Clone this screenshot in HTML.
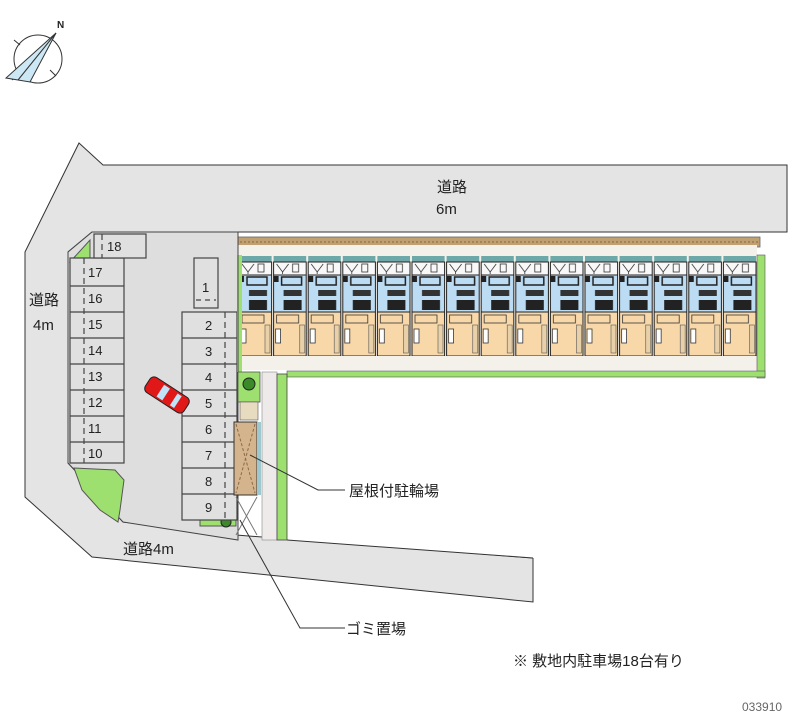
<!DOCTYPE html>
<html><head><meta charset="utf-8"><style>
html,body{margin:0;padding:0;background:#fff;}
svg{display:block;}
text{font-family:"Liberation Sans","Noto Sans CJK JP",sans-serif;}
</style></head><body>
<svg width="800" height="727" viewBox="0 0 800 727" xmlns="http://www.w3.org/2000/svg">
<defs>
<pattern id="unit" x="238" y="245" width="34.6" height="125" patternUnits="userSpaceOnUse">
  <rect x="0" y="0" width="34.6" height="125" fill="#f4f0ea"/>
  <rect x="1" y="11" width="32.6" height="6" fill="#6fa8a8"/>
  <rect x="1" y="17" width="32.6" height="13" fill="#f8f8f8" stroke="#222" stroke-width="1"/>
  <path d="M4 19 L10 27 L16 19 M10 27 V29" stroke="#333" fill="none" stroke-width="0.8"/>
  <rect x="20" y="19" width="6" height="8" fill="none" stroke="#333" stroke-width="0.8"/>
  <rect x="1" y="30" width="32.6" height="37" fill="#bcdcf4" stroke="#222" stroke-width="1"/>
  <rect x="1" y="31" width="5" height="6" fill="#222"/>
  <rect x="9" y="32" width="20" height="8" fill="none" stroke="#222" stroke-width="1.5"/>
  <rect x="11" y="45" width="18" height="6" fill="#333"/>
  <rect x="11" y="55" width="18" height="10" fill="#222"/>
  <rect x="1" y="67" width="32.6" height="44" fill="#f8d8a8" stroke="#222" stroke-width="1"/>
  <rect x="4" y="70" width="22" height="8" fill="none" stroke="#333" stroke-width="0.8"/>
  <rect x="3" y="84" width="5" height="14" fill="#fff" stroke="#333" stroke-width="0.8"/>
  <rect x="27" y="80" width="5" height="28" fill="#e8d0a8" stroke="#555" stroke-width="0.6"/>
  <rect x="1" y="111" width="32.6" height="3" fill="#333"/>
</pattern>
</defs>

<!-- compass -->
<g stroke="#333" fill="none" stroke-width="1">
<circle cx="38" cy="59" r="24"/>
<path d="M14 40 L20 45 M50 70 L56 76 M12 80 L20 74"/>
<path d="M56 33 L6 78 L30 82 Z" fill="#cce8f4"/>
<path d="M56 33 L18 80"/>
</g>
<text x="57" y="28" font-size="10" fill="#222" font-weight="bold">N</text>

<!-- roads -->
<path d="M79 143 L103 165 L787 165 L787 232 L92 232 L68 252 L68 463 L123 522 L236 535 L533 558 L533 602 L92 557 L25 497 L25 252 Z" fill="#e4e4e4" stroke="#333" stroke-width="1"/>
<!-- site lot -->
<path d="M92 232 L238 232 L238 540 L123 522 L68 463 L68 252 Z" fill="#dedede" stroke="#444" stroke-width="1"/>
<!-- empty land -->
<path d="M287 376 L800 376 L800 560 L533 558 L287 540 Z" fill="#fff"/>
<path d="M287 540 L533 558" stroke="#333"/>

<!-- greens -->
<path d="M70 262 L90 240 L90 262 Z" fill="#9ee070" stroke="#555"/>
<path d="M74 468 L115 470 L124 480 L120 510 L118 522 L100 510 L82 490 Z" fill="#9ee070" stroke="#555"/>
<rect x="200" y="516" width="36" height="10" fill="#9ee070" stroke="#555"/>
<circle cx="226" cy="522" r="5" fill="#3a8a2a" stroke="#222"/>

<!-- left stalls -->
<g stroke="#444" fill="#e0e0e0" stroke-width="1.2">
<rect x="70" y="258" width="54" height="205"/>
</g>
<g stroke="#444" stroke-width="1.2">
<path d="M70 286H124M70 312H124M70 338H124M70 364H124M70 390H124M70 416H124M70 442H124"/>
<path d="M84 258V463" stroke-dasharray="6 4"/>
<rect x="94" y="234" width="52" height="24" fill="#e0e0e0"/>
<path d="M102 234V258" stroke-dasharray="6 4"/>
<!-- right stalls -->
<rect x="182" y="312" width="55" height="208" fill="#e0e0e0"/>
<path d="M182 338H237M182 364H237M182 390H237M182 416H237M182 442H237M182 468H237M182 494H237"/>
<path d="M225 312V520" stroke-dasharray="6 4"/>
<rect x="194" y="258" width="24" height="50" fill="#e0e0e0"/>
<path d="M196 300H216" stroke-dasharray="5 4"/>
</g>
<g font-size="13" fill="#222">
<text x="107" y="251">18</text>
<text x="88" y="277">17</text><text x="88" y="303">16</text><text x="88" y="329">15</text>
<text x="88" y="355">14</text><text x="88" y="381">13</text><text x="88" y="407">12</text>
<text x="88" y="433">11</text><text x="88" y="458">10</text>
<text x="202" y="292">1</text>
<text x="205" y="330">2</text><text x="205" y="356">3</text><text x="205" y="382">4</text>
<text x="205" y="408">5</text><text x="205" y="434">6</text><text x="205" y="460">7</text>
<text x="205" y="486">8</text><text x="205" y="512">9</text>
</g>

<!-- car -->
<g transform="translate(167 395) rotate(33)">
<rect x="-23" y="-9" width="46" height="18" rx="5" fill="#e01818" stroke="#222"/>
<rect x="-8" y="-7" width="7" height="14" fill="#bfe4f8"/>
<rect x="8" y="-7" width="5" height="14" fill="#bfe4f8"/>
</g>

<!-- building -->
<rect x="238" y="237" width="522" height="10" fill="#c0a070" stroke="#666" stroke-width="0.8"/>
<path d="M240 242H758" stroke="#886644" stroke-dasharray="2 2"/>
<rect x="238" y="245" width="519" height="125" fill="url(#unit)"/>
<rect x="238" y="356" width="522" height="14" fill="#f4f0ea"/>
<rect x="757" y="255" width="8" height="123" fill="#9ee070" stroke="#555" stroke-width="0.6"/>
<rect x="237" y="255" width="5" height="117" fill="#9ee070"/>
<rect x="287" y="371" width="478" height="6" fill="#9ee070" stroke="#555" stroke-width="0.6"/>
<path d="M238 232V540" stroke="#444"/>

<!-- side strip -->
<rect x="238" y="372" width="22" height="30" fill="#9ee070" stroke="#555" stroke-width="0.8"/>
<circle cx="249" cy="384" r="6" fill="#3a8a2a" stroke="#222"/>
<rect x="240" y="402" width="18" height="18" fill="#e8dcc0" stroke="#555" stroke-width="0.6"/>
<rect x="262" y="372" width="15" height="168" fill="#eeeaea" stroke="#888" stroke-width="0.6"/>
<rect x="277" y="374" width="10" height="166" fill="#9ee070" stroke="#444" stroke-width="0.8"/>
<rect x="234" y="422" width="23" height="73" fill="#d4b48c" stroke="#333"/>
<rect x="257" y="422" width="4" height="73" fill="#9ec8d0"/>
<path d="M236 424L255 493M255 424L236 493" stroke="#8a6a4a" stroke-dasharray="3 2"/>
<path d="M236 497L257 535M257 497L236 535" stroke="#777"/>

<!-- leaders -->
<path d="M250 455 L318 490 L345 490" stroke="#333" fill="none"/>
<path d="M240 520 L300 628 L345 628" stroke="#333" fill="none"/>

<!-- labels -->
<g font-size="15" fill="#222">
<text x="437" y="192">道路</text>
<text x="436" y="214">6m</text>
<text x="29" y="305">道路</text>
<text x="33" y="330">4m</text>
<text x="123" y="554">道路4m</text>
<text x="349" y="496">屋根付駐輪場</text>
<text x="346" y="634">ゴミ置場</text>
<text x="513" y="666">※ 敷地内駐車場18台有り</text>
</g>
<text x="742" y="711" font-size="12" fill="#666">033910</text>
</svg>
</body></html>
